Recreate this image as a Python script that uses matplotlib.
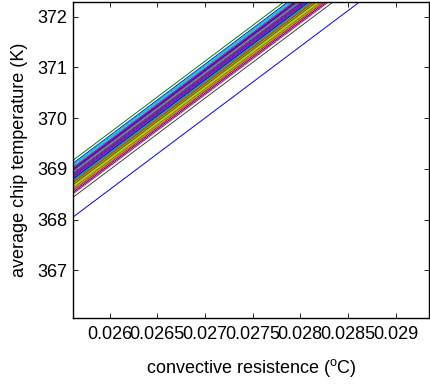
# chip temperature vs convective resistance, one line per case

import matplotlib
matplotlib.use("Agg")
import matplotlib.pyplot as plt
from matplotlib.ticker import FuncFormatter

plt.rcParams['font.family'] = ['Liberation Sans', 'DejaVu Sans']
plt.rcParams['mathtext.default'] = 'regular'

# resistance values at the two ends of every line
resistance = [0.0256, 0.0294]

# temperature at the low end / high end of each line, in plotting order
temp_low = [368.03, 369.15, 368.49, 369.05, 368.94, 368.72, 368.42,
            369.09, 368.82, 368.61, 369.01, 368.87, 368.66, 368.76,
            368.52, 368.79, 368.99, 369.03, 368.90, 368.69, 368.96,
            368.84, 368.59, 368.93, 369.07, 368.81, 368.64, 368.57,
            368.97, 368.74, 368.55, 368.92, 368.86, 368.62, 368.88,
            368.78, 368.67, 368.71, 368.75, 369.00, 368.58]
temp_high = [373.39, 374.51, 373.85, 374.41, 374.30, 374.08, 373.78,
             374.45, 374.18, 373.97, 374.37, 374.23, 374.02, 374.12,
             373.88, 374.15, 374.35, 374.39, 374.26, 374.05, 374.32,
             374.20, 373.95, 374.29, 374.43, 374.17, 374.00, 373.93,
             374.33, 374.10, 373.91, 374.28, 374.22, 373.98, 374.24,
             374.14, 374.03, 374.07, 374.11, 374.36, 373.94]

# old matlab colour order b g r c m y k
colors = [(0, 0, 1), (0, 0.5, 0), (1, 0, 0), (0, 0.75, 0.75),
          (0.75, 0, 0.75), (0.75, 0.75, 0), (0.25, 0.25, 0.25)]

x_ticks = [0.026, 0.0265, 0.027, 0.0275, 0.028, 0.0285, 0.029]
y_ticks = [367, 368, 369, 370, 371, 372]

fig = plt.figure(figsize=(4.3, 3.87), dpi=100)
ax = fig.add_axes([0.170, 0.178, 0.828, 0.818])

for i in range(len(temp_low)):
    ax.plot(resistance, [temp_low[i], temp_high[i]],
            color=colors[i % len(colors)], linewidth=0.7)

ax.set_xlim(0.025616, 0.029352)
ax.set_ylim(366.06, 372.3)
ax.set_xticks(x_ticks)
ax.set_yticks(y_ticks)
ax.xaxis.set_major_formatter(FuncFormatter(lambda v, p: "%g" % v))
ax.yaxis.set_major_formatter(FuncFormatter(lambda v, p: "%g" % v))

ax.tick_params(direction='in', length=3.5, width=0.6, labelsize=13,
               top=True, right=True)
ax.tick_params(axis='x', pad=5.5)
ax.tick_params(axis='y', pad=4)
for s in ax.spines.values():
    s.set_linewidth(1.0)

ax.set_xlabel(r'convective resistence ($^{o}$C)', fontsize=13, labelpad=10)
ax.set_ylabel('average chip temperature (K)', fontsize=13, labelpad=7)

fig.savefig("out.png", dpi=100)
